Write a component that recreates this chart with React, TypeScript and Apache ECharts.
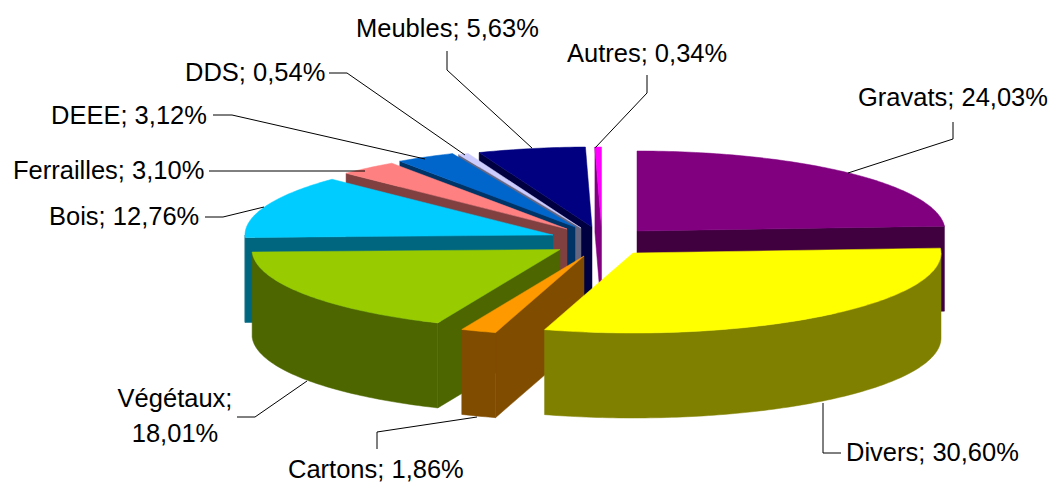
import React, { useEffect, useRef } from "react";
import * as echarts from "echarts";

const names = ["Gravats", "Divers", "Cartons", "Végétaux", "Bois", "Ferrailles", "DEEE", "DDS", "Meubles", "Autres"];
const values = [24.03, 30.6, 1.86, 18.01, 12.76, 3.1, 3.12, 0.54, 5.63, 0.34];
const topColors = ["#800080", "#FFFF00", "#FF9900", "#99CC00", "#00CCFF", "#FF8080", "#0066CC", "#CCCCFF", "#000080", "#FF00FF"];
const wallColors = ["#400040", "#808000", "#804D00", "#4D6600", "#006680", "#804040", "#003366", "#666680", "#000040", "#800080"];

// Exploded position of each slice's apex on the page.
const apexX = [637, 633, 584, 560, 553, 567, 575, 581, 592, 601.5];
const apexY = [231, 253, 256, 249.5, 235, 229, 227, 228, 227, 227];
const drawOrder = [9, 8, 7, 6, 5, 4, 3, 2, 0, 1];

const RX = 308;
const RY = 80;
const DEPTH = 85;

const labelX = [858, 846, 288, 175, 49, 13, 51, 185, 356, 567];
const labelY = [97, 452, 469, 415, 216, 170, 115, 72, 28, 53];
const leaders = [
  [[953, 122], [953, 139], [848, 173]],
  [[823, 403], [823, 453], [841, 453]],
  [[377, 449], [377, 432], [477, 417]],
  [[237, 417], [255, 417], [307, 381]],
  [[205, 217], [223, 217], [264, 207]],
  [[209, 171], [365, 171]],
  [[213, 115], [232, 115], [425, 159]],
  [[329, 73], [347, 73], [465, 155]],
  [[447, 51], [447, 70], [532, 148]],
  [[647, 75], [647, 93], [595, 148]],
];

const total = values.reduce((a, b) => a + b, 0);
const starts: number[] = [];
values.reduce((acc, v, i) => {
  starts[i] = (acc / total) * 360;
  return acc + v;
}, 0);
const ends = values.map((v, i) => starts[i] + (v / total) * 360);

const fmt = (v: number) => v.toFixed(2).replace(".", ",") + "%";
const labelText = (i: number) => (names[i] === "Végétaux" ? `${names[i]};\n${fmt(values[i])}` : `${names[i]}; ${fmt(values[i])}`);

function pt(i: number, deg: number, dy = 0): number[] {
  const r = (deg * Math.PI) / 180;
  return [apexX[i] + RX * Math.sin(r), apexY[i] - RY * Math.cos(r) + dy];
}
function arc(i: number, a: number, b: number, dy = 0): number[][] {
  const n = Math.max(2, Math.ceil(b - a));
  const out: number[][] = [];
  for (let k = 0; k <= n; k++) out.push(pt(i, a + ((b - a) * k) / n, dy));
  return out;
}
function poly(points: number[][], fill: string) {
  return { type: "polygon", shape: { points }, style: { fill, stroke: fill, lineWidth: 0.5 }, silent: true };
}

function renderItem(params: any) {
  const i = drawOrder[params.dataIndex];
  const s = starts[i];
  const e = ends[i];
  const apex = [apexX[i], apexY[i]];
  const apexLow = [apexX[i], apexY[i] + DEPTH];
  const children: any[] = [];
  if (s > 180 && s < 360) children.push(poly([apex, pt(i, s), pt(i, s, DEPTH), apexLow], wallColors[i]));
  if (e > 0 && e < 180) children.push(poly([apex, pt(i, e), pt(i, e, DEPTH), apexLow], wallColors[i]));
  const a = Math.max(s, 90);
  const b = Math.min(e, 270);
  if (a < b) children.push(poly([...arc(i, a, b), ...arc(i, a, b, DEPTH).reverse()], wallColors[i]));
  children.push(poly([apex, ...arc(i, s, e)], topColors[i]));
  return { type: "group", children };
}

export default function App() {
  const ref = useRef<HTMLDivElement>(null);
  useEffect(() => {
    const chart = echarts.init(ref.current!, undefined, { renderer: "svg" });
    const graphic: any[] = [];
    leaders.forEach((points) => {
      graphic.push({ type: "polyline", shape: { points }, style: { stroke: "#000", lineWidth: 1, fill: "none" }, silent: true, z: 10 });
    });
    names.forEach((_, i) => {
      const isWrapped = names[i] === "Végétaux";
      graphic.push({
        type: "text",
        x: labelX[i],
        y: labelY[i],
        z: 11,
        silent: true,
        style: {
          text: labelText(i),
          fill: "#000",
          font: "25.5px 'Liberation Sans', Arial, sans-serif",
          align: isWrapped ? "center" : "left",
          verticalAlign: "middle",
          lineHeight: 35,
        },
      });
    });
    chart.setOption({
      animation: false,
      backgroundColor: "#fff",
      series: [
        {
          type: "custom",
          coordinateSystem: "none",
          renderItem,
          silent: true,
          clip: false,
          data: drawOrder.map((i) => ({ name: names[i], value: [values[i]] })),
        },
      ],
      graphic,
    });
    return () => chart.dispose();
  }, []);
  return <div ref={ref} style={{ position: "absolute", left: 0, top: 0, width: 1053, height: 485 }} />;
}
